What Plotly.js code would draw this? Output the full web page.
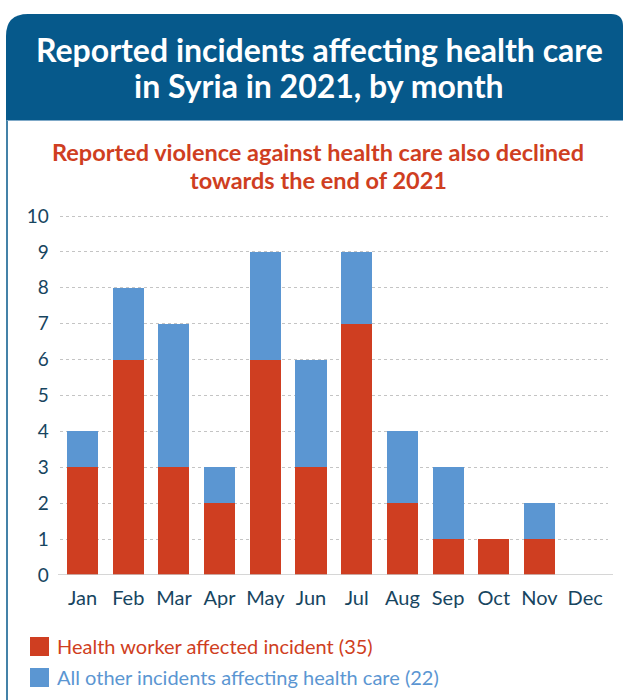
<!DOCTYPE html>
<html>
<head>
<meta charset="utf-8">
<script src="https://cdn.plot.ly/plotly-3.0.1.min.js"></script>
<style>html,body{margin:0;padding:0;background:#fff;}#chart{width:623px;height:700px;}</style>
</head>
<body>
<div id="chart"></div>
<script>
const months = ["Jan","Feb","Mar","Apr","May","Jun","Jul","Aug","Sep","Oct","Nov","Dec"];
const healthWorker = [3,6,3,2,6,3,7,2,1,1,1,0];
const otherIncidents = [1,2,4,1,3,3,2,2,2,0,1,0];
const seriesNames = ["Health worker affected incident (35)","All other incidents affecting health care (22)"];
const yTicks = [0,1,2,3,4,5,6,7,8,9,10];
const titleLines = ["Reported incidents affecting health care","in Syria in 2021, by month"];
const subtitleLines = ["Reported violence against health care also declined","towards the end of 2021"];

const W = 623, H = 700;
const px = x => x / W;
const py = y => 1 - y / H;
const RED = "#cf3e21", BLUE = "#5b96d2", NAVY = "#06598b", TXT = "#17455f";
const FONT = "Lato, 'Open Sans', sans-serif";

const yTop = 216 - 0.05 * 35.9;
const traces = [
  {type:"bar", x:months, y:healthWorker, name:seriesNames[0], marker:{color:RED}, hoverinfo:"skip"},
  {type:"bar", x:months, y:otherIncidents, name:seriesNames[1], marker:{color:BLUE}, hoverinfo:"skip"}
];

// header path with rounded top corners (paper coords)
const hx0 = 6, hx1 = 623, hy0 = 14, hy1 = 120, rL = 22, rR = 12;
const headerPath = `M ${px(hx0)},${py(hy1)} L ${px(hx0)},${py(hy0+rL)} Q ${px(hx0)},${py(hy0)} ${px(hx0+rL)},${py(hy0)} L ${px(hx1-rR)},${py(hy0)} Q ${px(hx1)},${py(hy0)} ${px(hx1)},${py(hy0+rR)} L ${px(hx1)},${py(hy1)} Z`;

const shapes = [
  {type:"line", xref:"paper", yref:"paper", x0:px(7), x1:px(7), y0:py(60), y1:py(705), line:{color:NAVY, width:1.5}},
  {type:"path", xref:"paper", yref:"paper", path:headerPath, fillcolor:NAVY, line:{width:0}},
  {type:"line", xref:"paper", yref:"paper", x0:px(7), x1:px(623), y0:py(120.5), y1:py(120.5), line:{color:"#7fa9c8", width:1}},
  {type:"line", xref:"paper", yref:"y", x0:px(58), x1:px(613), y0:0, y1:0, line:{color:"#c8c8c8", width:1.5}},
  {type:"rect", xref:"paper", yref:"paper", x0:px(30), x1:px(49), y0:py(637), y1:py(656), fillcolor:RED, line:{width:0}},
  {type:"rect", xref:"paper", yref:"paper", x0:px(30), x1:px(49), y0:py(668), y1:py(687), fillcolor:BLUE, line:{width:0}}
];

const titleY = [50, 85], subY = [152, 180];
const annotations = [];
titleLines.forEach((t, i) => annotations.push({xref:"paper", yref:"paper", x:px(319), y:py(titleY[i]), text:t, showarrow:false,
  xanchor:"center", yanchor:"middle", font:{family:FONT, size:32, color:"#ffffff", weight:"bold"}}));
subtitleLines.forEach((t, i) => annotations.push({xref:"paper", yref:"paper", x:px(318), y:py(subY[i]), text:t, showarrow:false,
  xanchor:"center", yanchor:"middle", font:{family:FONT, size:23.5, color:RED, weight:"bold"}}));
annotations.push(
  {xref:"paper", yref:"paper", x:px(55), y:py(646), text:seriesNames[0], showarrow:false, xanchor:"left", yanchor:"middle",
   font:{family:FONT, size:20, color:RED}},
  {xref:"paper", yref:"paper", x:px(55), y:py(677), text:seriesNames[1], showarrow:false, xanchor:"left", yanchor:"middle",
   font:{family:FONT, size:20, color:BLUE}}
);

const layout = {
  width:W, height:H, margin:{l:0,r:0,t:0,b:0},
  paper_bgcolor:"#fff", plot_bgcolor:"rgba(0,0,0,0)",
  barmode:"stack", bargap:0.32, showlegend:false,
  font:{family:FONT, color:TXT},
  xaxis:{domain:[px(59.7), px(608)], range:[-0.5, 11.5], type:"category", showgrid:false, zeroline:false, showline:false,
         ticks:"", tickfont:{family:FONT, size:20, color:TXT}, ticklabelstandoff:9, fixedrange:true},
  yaxis:{domain:[py(575), py(yTop)], range:[0, 10.05], tickvals:yTicks, ticktext:yTicks.map(String),
         showgrid:true, gridcolor:"#c4c4c4", griddash:"dot", gridwidth:1, zeroline:false, showline:false, ticks:"",
         tickfont:{family:FONT, size:19, color:TXT}, ticklabelstandoff:10, fixedrange:true},
  shapes:shapes, annotations:annotations
};

Plotly.newPlot("chart", traces, layout, {displayModeBar:false, staticPlot:true});
</script>
</body>
</html>
